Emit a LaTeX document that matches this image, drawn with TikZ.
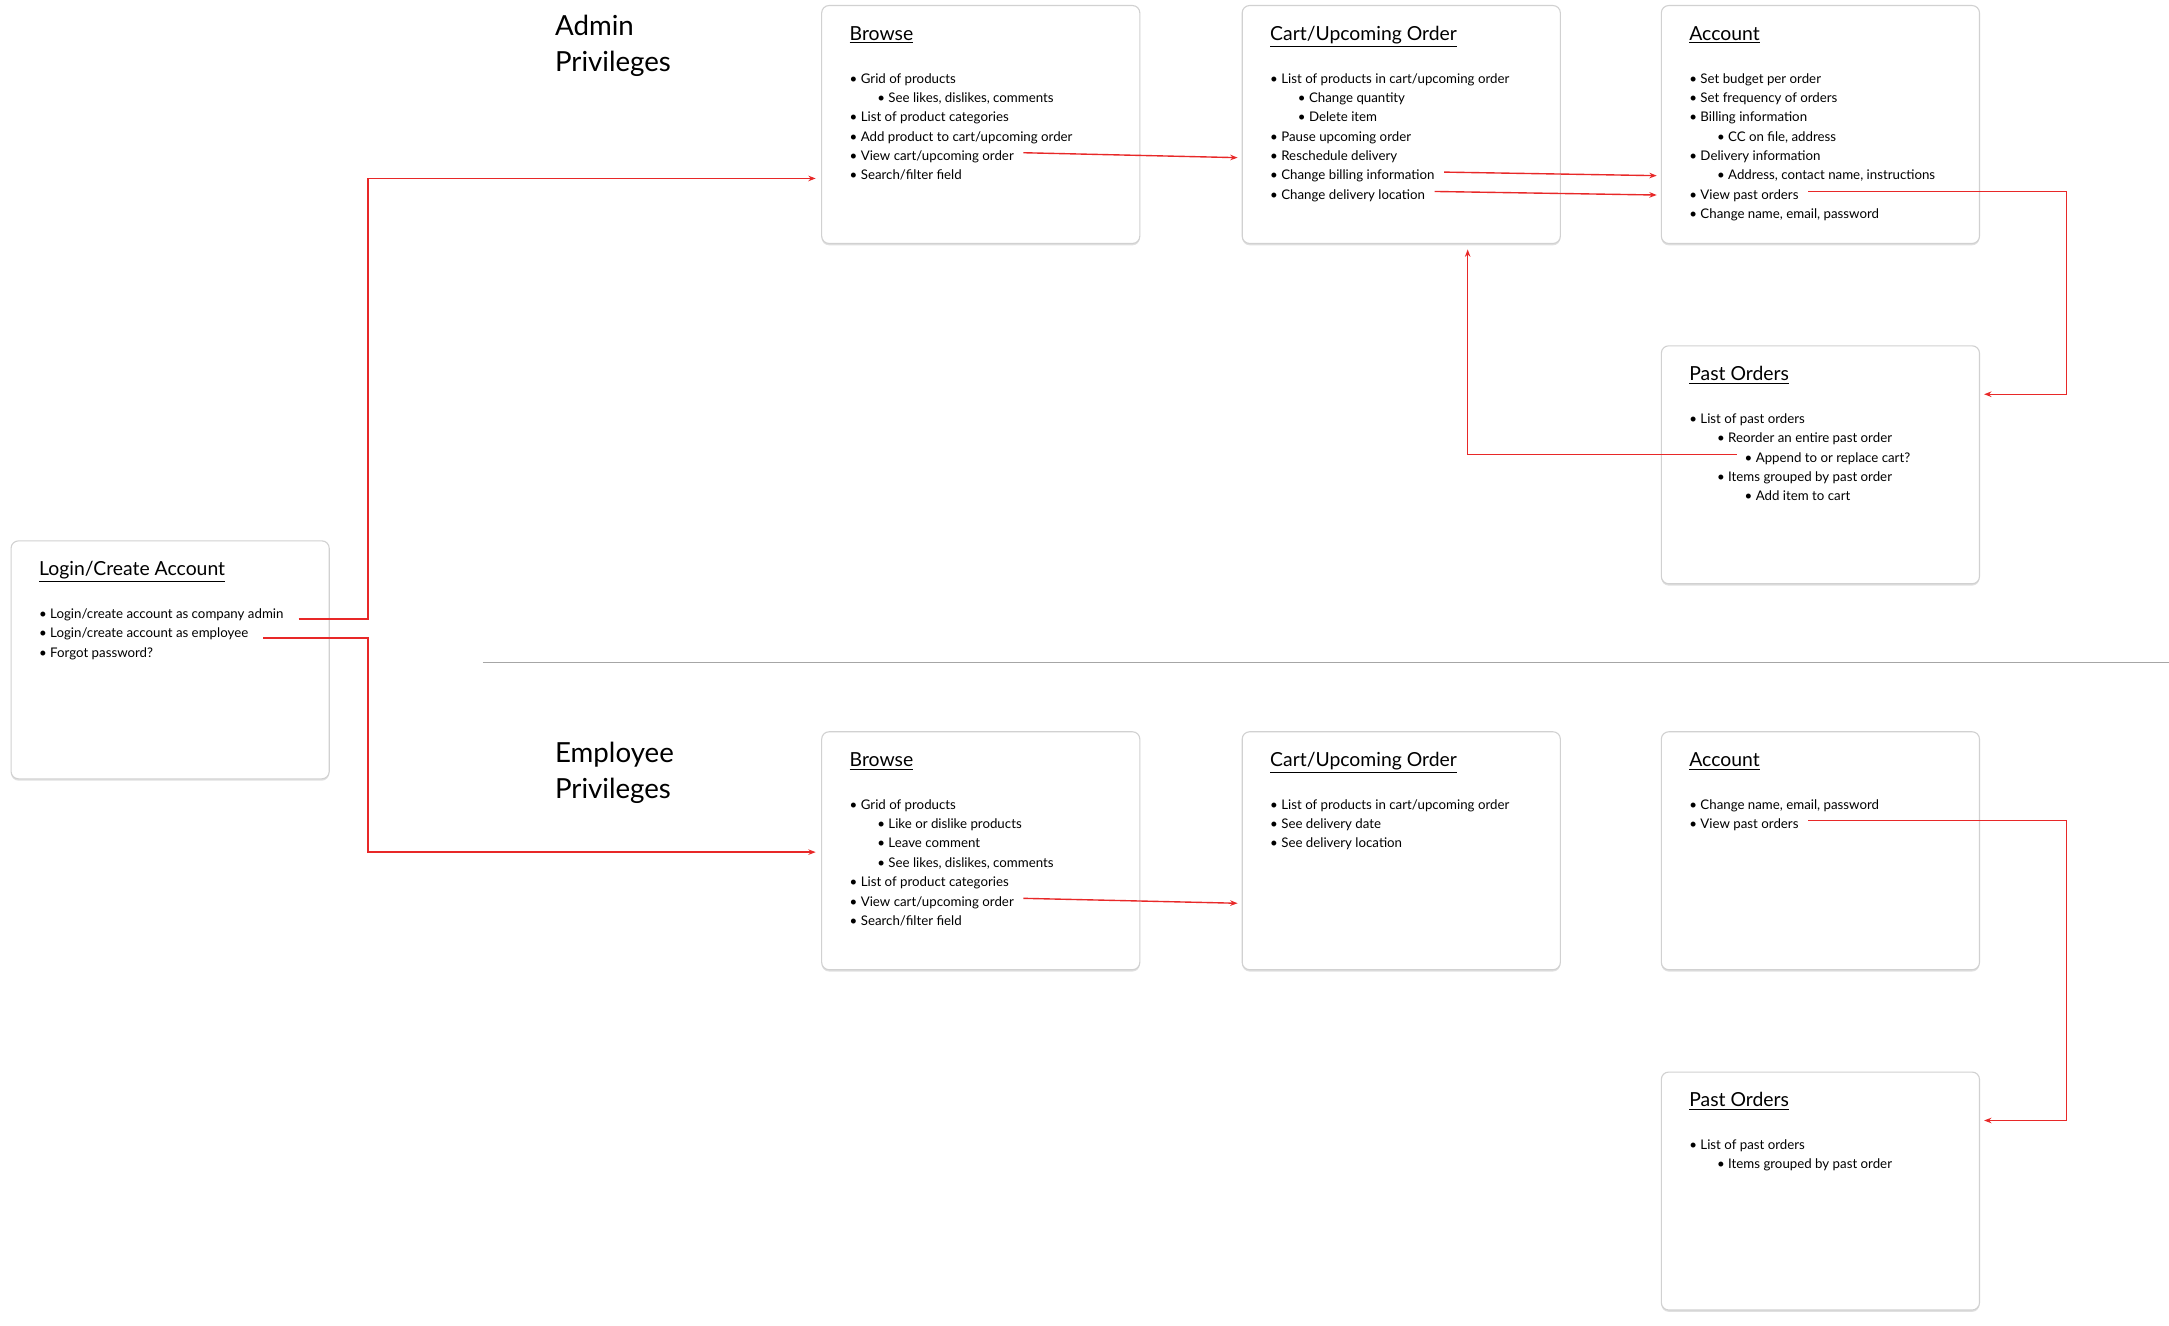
\documentclass[tikz,border=0pt]{standalone}
\usepackage{fontspec}
\setmainfont{Lato}
\usetikzlibrary{arrows.meta,shadows}
\definecolor{lred}{RGB}{232,40,40}
\tikzset{
  x=0.75pt,y=-0.75pt,
  card/.style={draw=black!18,line width=0.6pt,rounded corners=4pt,fill=white,
    drop shadow={shadow xshift=0pt,shadow yshift=-1pt,opacity=0.12,fill=black}},
  txt/.style={anchor=base west,inner sep=0pt,font=\fontsize{7.2}{8}\selectfont},
  ttl/.style={anchor=base west,inner sep=0pt,font=\fontsize{10.5}{12}\selectfont},
  hdg/.style={anchor=north west,inner sep=0pt,align=left,font=\fontsize{15}{19.5}\selectfont},
  arr/.style={draw=lred,line width=0.75pt,-{Stealth[length=4pt,width=3pt]},shorten >=1pt},
}
\newcommand\itm[4]{\node[txt] (#1) at (#2,#3) {\textbullet\ #4};}
\newcommand\card[5]{\path[card] (#2,#3) rectangle (#2+230,#3+172); \coordinate (#1) at (#2,#3);
  \node[ttl] (#1t) at (#2+20,#3+25) {\underline{#4}};}
\begin{document}
\begin{tikzpicture}
\useasboundingbox[fill=white] (0,0) rectangle (1568,958);
\draw[black!35,line width=0.6pt] (349,479) coordinate (d1) -- (1568,479) coordinate (d2);
\node[hdg] (ha) at (401,11) {Admin\\Privileges};
\node[hdg] (he) at (401,536) {Employee\\Privileges};
% Login
\card{lg}{8}{391}{Login/Create Account}{}
\itm{l1}{28}{447}{Login/create account as company admin}
\itm{l2}{28}{461}{Login/create account as employee}
\itm{l3}{28}{475}{Forgot password?}
% Admin browse
\card{ab}{594}{4}{Browse}{}
\itm{ab1}{614}{60}{Grid of products}
\itm{ab2}{634}{74}{See likes, dislikes, comments}
\itm{ab3}{614}{88}{List of product categories}
\itm{ab4}{614}{102}{Add product to cart/upcoming order}
\itm{ab5}{614}{116}{View cart/upcoming order}
\itm{ab6}{614}{130}{Search/filter field}
% Admin cart
\card{ac}{898}{4}{Cart/Upcoming Order}{}
\itm{ac1}{918}{60}{List of products in cart/upcoming order}
\itm{ac2}{938}{74}{Change quantity}
\itm{ac3}{938}{88}{Delete item}
\itm{ac4}{918}{102}{Pause upcoming order}
\itm{ac5}{918}{116}{Reschedule delivery}
\itm{ac6}{918}{130}{Change billing information}
\itm{ac7}{918}{144}{Change delivery location}
% Admin account
\card{aa}{1201}{4}{Account}{}
\itm{aa1}{1221}{60}{Set budget per order}
\itm{aa2}{1221}{74}{Set frequency of orders}
\itm{aa3}{1221}{88}{Billing information}
\itm{aa4}{1241}{102}{CC on file, address}
\itm{aa5}{1221}{116}{Delivery information}
\itm{aa6}{1241}{130}{Address, contact name, instructions}
\itm{aa7}{1221}{144}{View past orders}
\itm{aa8}{1221}{158}{Change name, email, password}
% Admin past
\card{ap}{1201}{250}{Past Orders}{}
\itm{ap1}{1221}{306}{List of past orders}
\itm{ap2}{1241}{320}{Reorder an entire past order}
\itm{ap3}{1261}{334}{Append to or replace cart?}
\itm{ap4}{1241}{348}{Items grouped by past order}
\itm{ap5}{1261}{362}{Add item to cart}
% Employee browse
\card{eb}{594}{529}{Browse}{}
\itm{eb1}{614}{585}{Grid of products}
\itm{eb2}{634}{599}{Like or dislike products}
\itm{eb3}{634}{613}{Leave comment}
\itm{eb4}{634}{627}{See likes, dislikes, comments}
\itm{eb5}{614}{641}{List of product categories}
\itm{eb6}{614}{655}{View cart/upcoming order}
\itm{eb7}{614}{669}{Search/filter field}
% Employee cart
\card{ec}{898}{529}{Cart/Upcoming Order}{}
\itm{ec1}{918}{585}{List of products in cart/upcoming order}
\itm{ec2}{918}{599}{See delivery date}
\itm{ec3}{918}{613}{See delivery location}
% Employee account
\card{ea}{1201}{529}{Account}{}
\itm{ea1}{1221}{585}{Change name, email, password}
\itm{ea2}{1221}{599}{View past orders}
% Employee past
\card{ep}{1201}{775}{Past Orders}{}
\itm{ep1}{1221}{831}{List of past orders}
\itm{ep2}{1241}{845}{Items grouped by past order}
% connectors
\draw[arr] ([xshift=8pt]l1.east) ++(0,3) -| (266,129) -- (591,129);
\draw[arr] ([xshift=8pt]l2.east) ++(0,3) -| (266,616) -- (591,616);
\draw[arr] ([xshift=5pt,yshift=2.2pt]ab5.east) -- (896,114);
\draw[arr] ([xshift=5pt,yshift=2.2pt]ac6.east) -- (1199,127);
\draw[arr] ([xshift=5pt,yshift=2.2pt]ac7.east) -- (1199,141);
\draw[arr] ([xshift=5pt,yshift=2.2pt]aa7.east) -| (1494,285) -- (1433,285);
\draw[arr] ([xshift=-4pt,yshift=2.2pt]ap3.west) -| (1061,179);
\draw[arr] ([xshift=5pt,yshift=2.2pt]eb6.east) -- (896,653);
\draw[arr] ([xshift=5pt,yshift=2.2pt]ea2.east) -| (1494,810) -- (1433,810);
\end{tikzpicture}
\end{document}
